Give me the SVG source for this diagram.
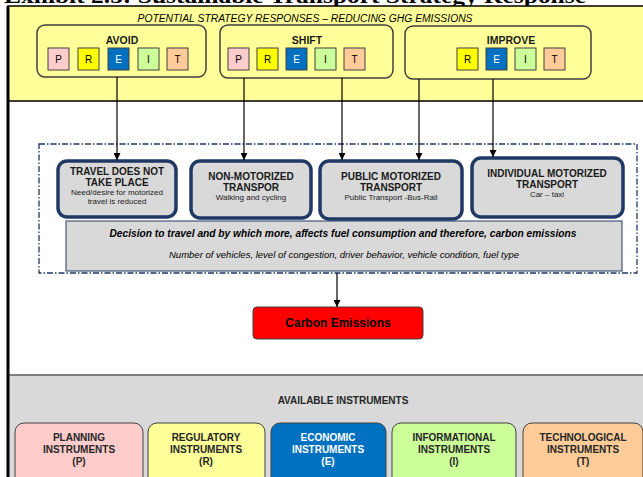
<svg xmlns="http://www.w3.org/2000/svg" width="643" height="477" viewBox="0 0 643 477">
<defs>
<marker id="arr" viewBox="0 0 10 10" refX="10" refY="5" markerWidth="7" markerHeight="7" markerUnits="userSpaceOnUse" orient="auto"><path d="M0,0 L10,5 L0,10 z" fill="#000"/></marker>
<style>
text{font-family:"Liberation Sans",Arial,sans-serif;fill:#000}
.b{font-weight:bold}
.grp{fill:none;stroke:#404040;stroke-width:1.5}
.lt{stroke:#404040;stroke-width:1}
.lbl{font-size:10px;text-anchor:middle}
.glbl{font-size:10.5px;font-weight:bold;text-anchor:middle;fill:#1a1a1a}
.mode{fill:#D9D9D9;stroke:#1F3864;stroke-width:3.5}
.mt{font-size:10px;font-weight:bold;text-anchor:middle;fill:#1a1a1a}
.ms{font-size:8px;text-anchor:middle;fill:#1a1a1a}
.inst{stroke:#404040;stroke-width:1}
.it{font-size:10px;font-weight:bold;text-anchor:middle;fill:#262626}
.con{stroke:#000;stroke-width:1.2;fill:none;marker-end:url(#arr)}
</style>
</defs>
<rect width="643" height="477" fill="#fff"/>
<text x="4" y="3" font-weight="bold" font-size="20" textLength="582" lengthAdjust="spacingAndGlyphs" style="font-family:'Liberation Serif',serif">Exhibit 2.5: Sustainable Transport Strategy Response</text>
<!-- backgrounds -->
<rect x="8" y="6" width="640" height="95" fill="#FFFF99" stroke="#000" stroke-width="1.5"/>
<rect x="8" y="375" width="640" height="110" fill="#D9D9D9"/>
<line x1="8" y1="375" x2="643" y2="375" stroke="#7F7F7F" stroke-width="2"/>
<line x1="8" y1="6" x2="8" y2="477" stroke="#000" stroke-width="3"/>
<text x="305" y="22" font-size="10" font-style="italic" text-anchor="middle" textLength="335" lengthAdjust="spacingAndGlyphs" fill="#1a1a1a">POTENTIAL STRATEGY RESPONSES – REDUCING GHG EMISSIONS</text>

<g id="avoid">
<rect class="grp" x="37" y="25" width="169" height="52" rx="8"/>
<text class="glbl" x="122" y="44">AVOID</text>
<rect class="lt" x="48" y="48" width="21" height="22" fill="#FFCCCC"/><text class="lbl" x="58.5" y="63">P</text>
<rect class="lt" x="78" y="48" width="21" height="22" fill="#FFFF00"/><text class="lbl" x="88.5" y="63">R</text>
<rect class="lt" x="108" y="48" width="21" height="22" fill="#0070C0"/><text class="lbl" x="118.5" y="63" style="fill:#fff">E</text>
<rect class="lt" x="138" y="48" width="21" height="22" fill="#CCFF99"/><text class="lbl" x="148.5" y="63">I</text>
<rect class="lt" x="167" y="48" width="21" height="22" fill="#FFCC99"/><text class="lbl" x="177.5" y="63">T</text>
</g>
<g id="shift">
<rect class="grp" x="220" y="25" width="173" height="53" rx="8"/>
<text class="glbl" x="307" y="44">SHIFT</text>
<rect class="lt" x="228" y="48" width="21" height="22" fill="#FFCCCC"/><text class="lbl" x="238.5" y="63">P</text>
<rect class="lt" x="257" y="48" width="21" height="22" fill="#FFFF00"/><text class="lbl" x="267.5" y="63">R</text>
<rect class="lt" x="286" y="48" width="21" height="22" fill="#0070C0"/><text class="lbl" x="296.5" y="63" style="fill:#fff">E</text>
<rect class="lt" x="315" y="48" width="21" height="22" fill="#CCFF99"/><text class="lbl" x="325.5" y="63">I</text>
<rect class="lt" x="344" y="48" width="21" height="22" fill="#FFCC99"/><text class="lbl" x="354.5" y="63">T</text>
</g>
<g id="improve">
<rect class="grp" x="405" y="26" width="186" height="53" rx="8"/>
<text class="glbl" x="511" y="44">IMPROVE</text>
<rect class="lt" x="457" y="48" width="21" height="22" fill="#FFFF00"/><text class="lbl" x="467.5" y="63">R</text>
<rect class="lt" x="486" y="48" width="21" height="22" fill="#0070C0"/><text class="lbl" x="496.5" y="63" style="fill:#fff">E</text>
<rect class="lt" x="515" y="48" width="21" height="22" fill="#CCFF99"/><text class="lbl" x="525.5" y="63">I</text>
<rect class="lt" x="544" y="48" width="21" height="22" fill="#FFCC99"/><text class="lbl" x="554.5" y="63">T</text>
</g>

<g id="container">
<rect x="39" y="144" width="598" height="129" fill="none" stroke="#1F3864" stroke-width="1.3" stroke-dasharray="6,2,1.5,2"/>
</g>
<g id="travel">
<rect class="mode" x="58" y="161" width="118" height="56" rx="9"/>
<text class="mt" x="117" y="175">TRAVEL DOES NOT</text>
<text class="mt" x="117" y="186">TAKE PLACE</text>
<text class="ms" x="117" y="195">Need/desire for motorized</text>
<text class="ms" x="117" y="204">travel is reduced</text>
</g>
<g id="nonmotor">
<rect class="mode" x="191" y="161" width="120" height="57" rx="9"/>
<text class="mt" x="251" y="180">NON-MOTORIZED</text>
<text class="mt" x="251" y="191">TRANSPOR</text>
<text class="ms" x="251" y="200">Walking and cycling</text>
</g>
<g id="public">
<rect class="mode" x="320" y="161" width="142" height="58" rx="9"/>
<text class="mt" x="391" y="180">PUBLIC MOTORIZED</text>
<text class="mt" x="391" y="191">TRANSPORT</text>
<text class="ms" x="391" y="200">Public Transport -Bus-Rail</text>
</g>
<g id="individual">
<rect class="mode" x="472" y="158" width="151" height="59" rx="9"/>
<text class="mt" x="547" y="177">INDIVIDUAL MOTORIZED</text>
<text class="mt" x="547" y="188">TRANSPORT</text>
<text class="ms" x="547" y="197">Car – taxi</text>
</g>
<g id="decision">
<rect x="66" y="221" width="556" height="50" fill="#D9D9D9" stroke="#1F3864" stroke-width="1"/>
<text x="343" y="237" font-size="10" font-weight="bold" font-style="italic" text-anchor="middle" textLength="467" lengthAdjust="spacingAndGlyphs" fill="#1a1a1a">Decision to travel and by which more, affects fuel consumption and therefore, carbon emissions</text>
<text x="344" y="258" font-size="8.5" font-style="italic" text-anchor="middle" textLength="350" lengthAdjust="spacingAndGlyphs" fill="#1a1a1a">Number of vehicles, level of congestion, driver behavior, vehicle condition, fuel type</text>
</g>
<g id="carbon">
<rect x="253" y="307" width="170" height="32" rx="4" fill="#FF0000" stroke="#404040" stroke-width="1"/>
<text x="338" y="327" font-size="12" font-weight="bold" text-anchor="middle" fill="#1a1a1a">Carbon Emissions</text>
</g>

<g id="connectors">
<line class="con" x1="117" y1="77" x2="117" y2="160"/>
<line class="con" x1="244" y1="78" x2="244" y2="160"/>
<line class="con" x1="342" y1="78" x2="342" y2="160"/>
<line class="con" x1="419" y1="79" x2="419" y2="160"/>
<line class="con" x1="493" y1="79" x2="493" y2="157"/>
<line class="con" x1="337" y1="273" x2="337" y2="307"/>
</g>

<text class="it" x="343" y="404">AVAILABLE INSTRUMENTS</text>
<g id="planning">
<rect class="inst" x="15" y="423" width="128" height="70" rx="9" fill="#FFCCCC"/>
<text class="it" x="79" y="441">PLANNING</text><text class="it" x="79" y="453">INSTRUMENTS</text><text class="it" x="79" y="465">(P)</text>
</g>
<g id="regulatory">
<rect class="inst" x="148" y="423" width="117" height="70" rx="9" fill="#FFFF99"/>
<text class="it" x="206" y="441">REGULATORY</text><text class="it" x="206" y="453">INSTRUMENTS</text><text class="it" x="206" y="465">(R)</text>
</g>
<g id="economic">
<rect class="inst" x="271" y="423" width="115" height="70" rx="9" fill="#0070C0"/>
<text class="it" x="328" y="441" style="fill:#fff">ECONOMIC</text><text class="it" x="328" y="453" style="fill:#fff">INSTRUMENTS</text><text class="it" x="328" y="465" style="fill:#fff">(E)</text>
</g>
<g id="informational">
<rect class="inst" x="392" y="423" width="124" height="70" rx="9" fill="#CCFF99"/>
<text class="it" x="454" y="441">INFORMATIONAL</text><text class="it" x="454" y="453">INSTRUMENTS</text><text class="it" x="454" y="465">(I)</text>
</g>
<g id="technological">
<rect class="inst" x="523" y="423" width="120" height="70" rx="9" fill="#FFCC99"/>
<text class="it" x="583" y="441">TECHNOLOGICAL</text><text class="it" x="583" y="453">INSTRUMENTS</text><text class="it" x="583" y="465">(T)</text>
</g>
</svg>
